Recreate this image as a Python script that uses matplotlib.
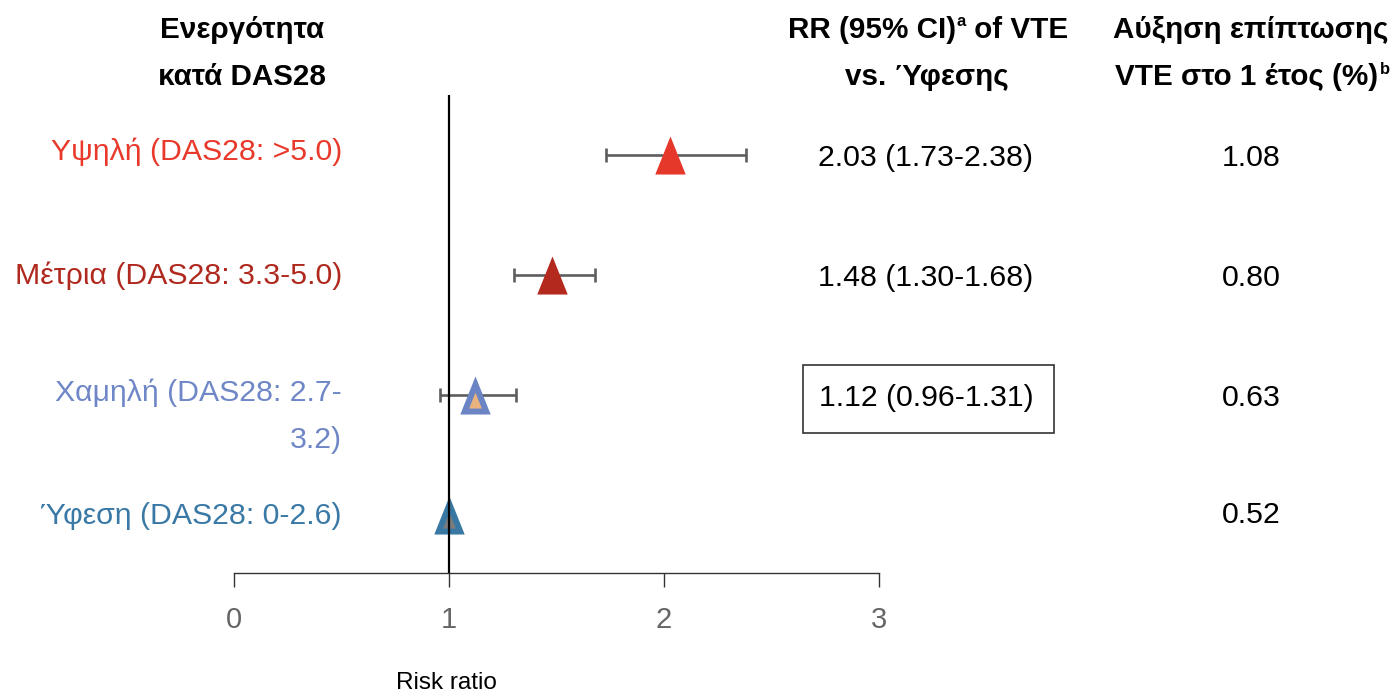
import matplotlib
matplotlib.use("Agg")
import matplotlib.pyplot as plt
from matplotlib.patches import Rectangle
import numpy as np

# ---- data ----
categories = ["Υψηλή (DAS28: >5.0)", "Μέτρια (DAS28: 3.3-5.0)",
              "Χαμηλή (DAS28: 2.7-\n3.2)", "Ύφεση (DAS28: 0-2.6)"]
rr = [2.03, 1.48, 1.12, 1.00]
ci_low = [1.73, 1.30, 0.96, None]
ci_high = [2.38, 1.68, 1.31, None]
rr_labels = ["2.03 (1.73-2.38)", "1.48 (1.30-1.68)", "1.12 (0.96-1.31)", ""]
incidence = ["1.08", "0.80", "0.63", "0.52"]
xticks = [0, 1, 2, 3]

label_colors = ["#E8392B", "#B0291F", "#6F87C7", "#3A79A6"]
marker_colors = ["#E5372A", "#B3291E", "#6A84C4", "#3878A3"]
inner_colors = [None, None, "#E9B27F", "#7C7C7C"]

FONT = ["Liberation Sans Narrow", "Liberation Sans", "DejaVu Sans"]
plt.rcParams["font.family"] = FONT

W, H = 1398, 696
fig = plt.figure(figsize=(W / 100, H / 100), dpi=100)


def fx(x):
    return x / W


def fy(y):
    return 1 - y / H


# axes: x 0..3 spans pixels 234..879, top at 95, axis line at 573
ax = fig.add_axes([fx(234), fy(573), fx(879) - fx(234), fy(95) - fy(573)])
ax.set_xlim(0, 3)
row_y = np.array([4, 3, 2, 1], dtype=float)
ax.set_ylim(1 - 58 / 120, 4 + 60 / 120)
for s in ["top", "right", "left"]:
    ax.spines[s].set_visible(False)
ax.spines["bottom"].set_color("#333333")
ax.spines["bottom"].set_linewidth(1.0)
ax.set_yticks([])
ax.set_xticks(xticks)
ax.set_xticklabels([str(t) for t in xticks])
ax.tick_params(axis="x", direction="out", length=10, width=1.0, color="#333333",
               labelsize=21, labelcolor="#666666", pad=14)
ax.patch.set_visible(False)

# reference line at RR = 1
ax.axvline(1, color="black", lw=1.6, zorder=5)

# triangle markers: outer shape and a concentric inner shape
outer = np.array([(-0.8, -1.0), (0.8, -1.0), (0.0, 1.0)])
a = np.linalg.norm(outer[1] - outer[2])
base = 1.6
s = (base + 2 * a) / 2
r_in = 1.6 / s
center = np.array([0.0, -1.0 + r_in])
k = 0.42
inner = center + k * (outer - center)
m_inner = np.max(np.abs(inner))
ms_outer = 27.4

for i in range(len(rr)):
    y = row_y[i]
    if ci_low[i] is not None:
        ax.errorbar(rr[i], y, xerr=[[rr[i] - ci_low[i]], [ci_high[i] - rr[i]]],
                    fmt="none", ecolor="#5E5E5E", elinewidth=1.9,
                    capsize=4.7, capthick=1.9, zorder=2)
    ax.plot(rr[i], y, linestyle="none", marker=outer, ms=ms_outer,
            color=marker_colors[i], markeredgewidth=0, zorder=3)
    if inner_colors[i] is not None:
        ax.plot(rr[i], y, linestyle="none", marker=inner, ms=ms_outer * m_inner,
                color=inner_colors[i], markeredgewidth=0, zorder=4)

# category labels
label_y = [152, 276, 416, 516]
for i, lab in enumerate(categories):
    fig.text(fx(342), fy(label_y[i]), lab, ha="right", va="center",
             fontsize=21.8, color=label_colors[i], linespacing=1.85)

# column values
val_y = [158, 278, 398, 515]
for i in range(len(rr)):
    if rr_labels[i]:
        fig.text(fx(926), fy(val_y[i]), rr_labels[i], ha="center", va="center",
                 fontsize=21.8, color="black")
    fig.text(fx(1251), fy(val_y[i]), incidence[i], ha="center", va="center",
             fontsize=21.8, color="black")

# box around the non-significant estimate
fig.patches.append(Rectangle((fx(803), fy(433)), fx(1054) - fx(803), fy(365) - fy(433),
                             transform=fig.transFigure, fill=False,
                             edgecolor="#333333", lw=1.2))

# headers
hdr = dict(fontsize=21.3, fontweight="bold", color="black", va="center")
fig.text(fx(242), fy(30), "Ενεργότητα", ha="center", **hdr)
fig.text(fx(242), fy(77), "κατά DAS28", ha="center", **hdr)

renderer = fig.canvas.get_renderer()


def sup_line(cx, y, main, sup):
    t = fig.text(0, fy(y), main, ha="left", **hdr)
    sp = fig.text(0, fy(y - 8), sup, ha="left", fontsize=12, fontweight="bold",
                  color="black", va="center")
    w1 = t.get_window_extent(renderer).width
    w2 = sp.get_window_extent(renderer).width
    x0 = cx - (w1 + w2) / 2
    t.set_x(fx(x0))
    sp.set_x(fx(x0 + w1 + 1))
    return t, sp


def sup_split(cx, y, left, sup, right):
    t1 = fig.text(0, fy(y), left, ha="left", **hdr)
    sp = fig.text(0, fy(y - 8), sup, ha="left", fontsize=12, fontweight="bold",
                  color="black", va="center")
    t2 = fig.text(0, fy(y), right, ha="left", **hdr)
    w1 = t1.get_window_extent(renderer).width
    w2 = sp.get_window_extent(renderer).width
    w3 = t2.get_window_extent(renderer).width
    x0 = cx - (w1 + w2 + w3 + 1) / 2
    t1.set_x(fx(x0))
    sp.set_x(fx(x0 + w1 + 1))
    t2.set_x(fx(x0 + w1 + w2 + 1))


sup_split(928, 30, "RR (95% CI)", "a", " of VTE")
fig.text(fx(927), fy(77), "vs. Ύφεσης", ha="center", **hdr)
fig.text(fx(1251), fy(30), "Αύξηση επίπτωσης", ha="center", **hdr)
sup_line(1252, 77, "VTE στο 1 έτος (%)", "b")

fig.text(fx(446), fy(683), "Risk ratio", ha="center", va="center",
         fontsize=17.5, color="black")

fig.savefig("out.png", dpi=100)
